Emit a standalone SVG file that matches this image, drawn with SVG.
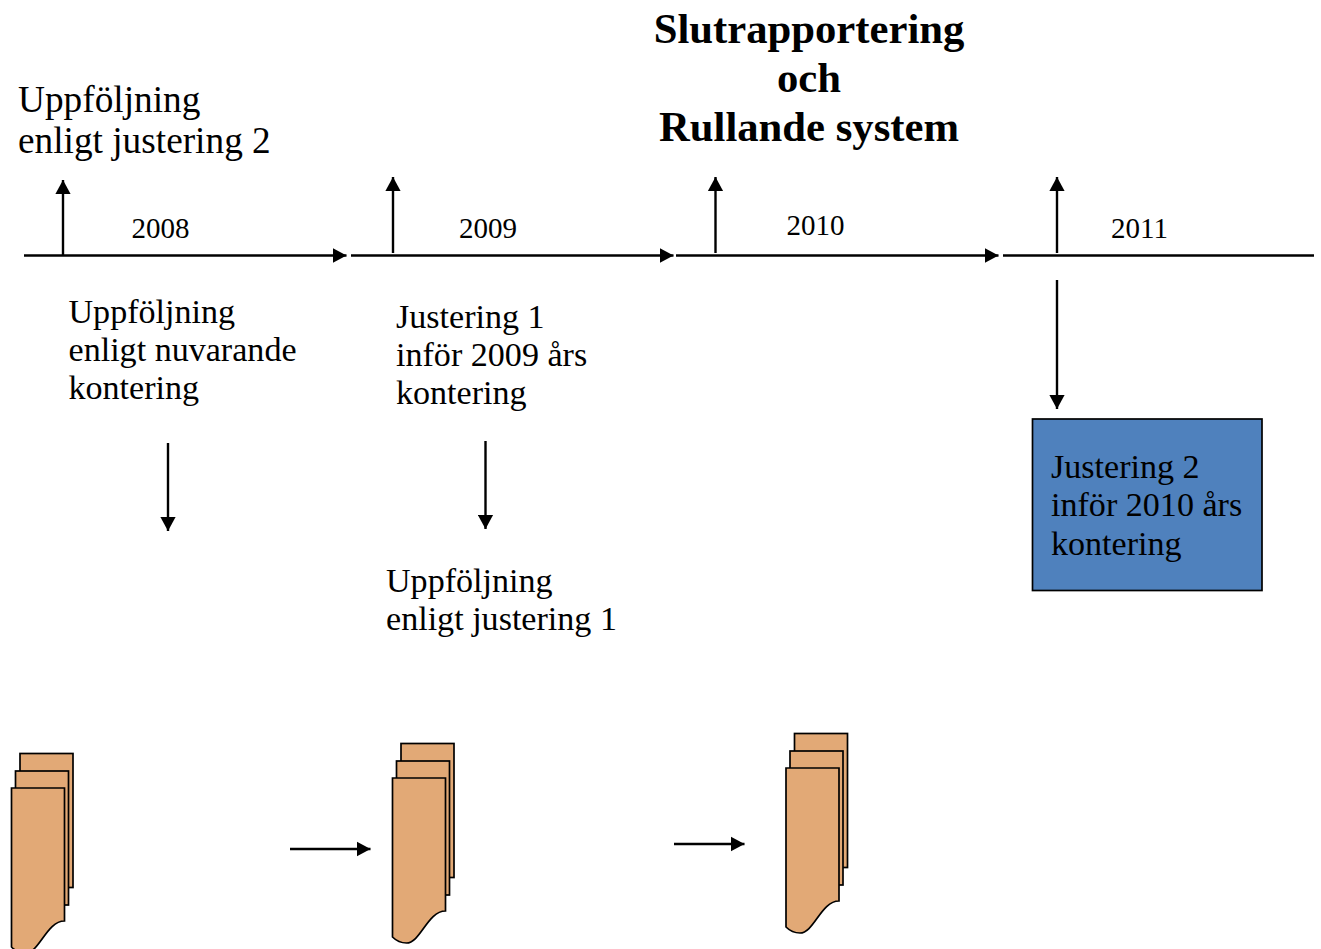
<svg xmlns="http://www.w3.org/2000/svg" width="1321" height="949" viewBox="0 0 1321 949">
<style>
text{font-family:"Liberation Serif","Times New Roman",serif;fill:#000}
.t{font-size:34.1px}
.tl{font-size:37.3px}
.y{font-size:29px}
.h{font-size:42.7px;font-weight:bold;text-anchor:middle}
.c{stroke:#000;stroke-width:2.4;fill:none}
.a{marker-end:url(#ah)}
.d{fill:#e2a976;stroke:#000;stroke-width:1.7;stroke-linejoin:miter}
</style>
<defs>
<marker id="ah" markerUnits="userSpaceOnUse" markerWidth="15" markerHeight="16" refX="14" refY="8" orient="auto"><path d="M0 0.4L14 8L0 15.600Z" fill="#000"/></marker>
<g id="doc"><rect class="d" x="8.500" y="-34.500" width="53" height="134"/><rect class="d" x="4" y="-17" width="53" height="134"/><path class="d" d="M0 0H53V133C35 133 28 165 14 165C8 165 3 162 0 159Z"/></g>
</defs>
<rect width="1321" height="949" fill="#fff"/>
<g id="connectors">
<line class="c a" x1="24" y1="255.500" x2="346.500" y2="255.500"/>
<line class="c a" x1="351" y1="255.500" x2="673.500" y2="255.500"/>
<line class="c a" x1="676" y1="255.500" x2="998.500" y2="255.500"/>
<line class="c" x1="1003" y1="255.500" x2="1314" y2="255.500"/>
<line class="c a" x1="63" y1="255" x2="63" y2="180"/>
<line class="c a" x1="393" y1="253" x2="393" y2="177"/>
<line class="c a" x1="715.500" y1="253" x2="715.500" y2="177"/>
<line class="c a" x1="1057" y1="253" x2="1057" y2="177"/>
<line class="c a" x1="1057" y1="280" x2="1057" y2="409"/>
<line class="c a" x1="168" y1="443" x2="168" y2="531"/>
<line class="c a" x1="485.500" y1="441" x2="485.500" y2="529"/>
<line class="c a" x1="290" y1="849" x2="370.500" y2="849"/>
<line class="c a" x1="674" y1="844" x2="744.500" y2="844"/>
</g>
<g id="title"><text class="h" x="809" y="43">Slutrapportering</text><text class="h" x="809" y="92">och</text><text class="h" x="809" y="141">Rullande system</text></g>
<g id="top-left"><text class="tl" x="18" y="112">Uppföljning</text><text class="tl" x="18" y="153">enligt justering 2</text></g>
<g id="y2008"><text class="y" x="131.500" y="237.500">2008</text></g>
<g id="y2009"><text class="y" x="459" y="237.500">2009</text></g>
<g id="y2010"><text class="y" x="786.500" y="234.500">2010</text></g>
<g id="y2011"><text class="y" x="1111" y="237.500">2011</text></g>
<g id="note-2008"><text class="t" x="68.500" y="323">Uppföljning</text><text class="t" x="68.500" y="361">enligt nuvarande</text><text class="t" x="68.500" y="399">kontering</text></g>
<g id="note-2009"><text class="t" x="396" y="328">Justering 1</text><text class="t" x="396" y="366">inför 2009 års</text><text class="t" x="396" y="404">kontering</text></g>
<g id="note-j1"><text class="t" x="386" y="592">Uppföljning</text><text class="t" x="386" y="630">enligt justering 1</text></g>
<g id="box"><rect x="1032.500" y="419" width="229.500" height="171.500" fill="#4f81bd" stroke="#000" stroke-width="1.7"/><text class="t" x="1051" y="478">Justering 2</text><text class="t" x="1051" y="516">inför 2010 års</text><text class="t" x="1051" y="555">kontering</text></g>
<g id="stack1"><use href="#doc" x="11.500" y="788"/></g>
<g id="stack2"><use href="#doc" x="392.500" y="778"/></g>
<g id="stack3"><use href="#doc" x="786" y="768"/></g>
</svg>
